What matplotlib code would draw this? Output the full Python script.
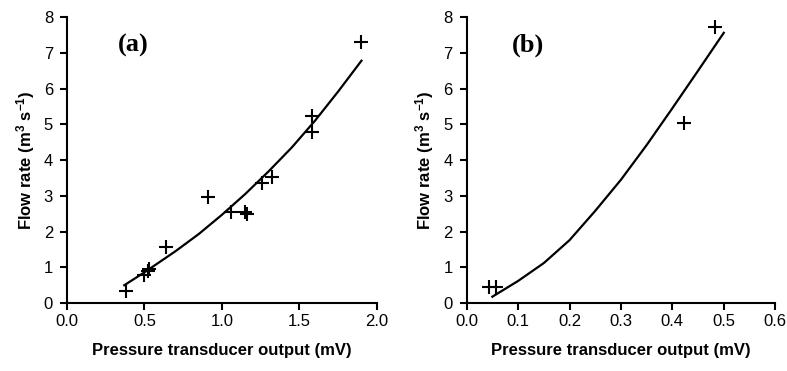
import matplotlib
matplotlib.use("Agg")
import matplotlib.pyplot as plt
from matplotlib.ticker import FormatStrFormatter, MultipleLocator

# Kalibrierung Druckaufnehmer -> Durchfluss, zwei Messreihen

plt.rcParams['font.family'] = ['Liberation Sans', 'DejaVu Sans']
plt.rcParams['mathtext.fontset'] = 'custom'
plt.rcParams['mathtext.rm'] = 'Liberation Sans:bold'
plt.rcParams['mathtext.default'] = 'rm'

# (a) Messpunkte
a_x = [0.38, 0.50, 0.52, 0.53, 0.64, 0.91, 1.06, 1.15, 1.16, 1.26, 1.32, 1.58, 1.58, 1.90]
a_y = [0.35, 0.80, 0.90, 0.95, 1.58, 2.97, 2.55, 2.55, 2.48, 3.35, 3.52, 5.22, 4.78, 7.29]
# (a) Ausgleichskurve
a_fit_x = [0.37, 0.50, 0.70, 0.85, 1.00, 1.15, 1.30, 1.45, 1.60, 1.75, 1.90]
a_fit_y = [0.50, 0.86, 1.45, 1.93, 2.47, 3.05, 3.68, 4.35, 5.10, 5.92, 6.78]

# (b) Messpunkte
b_x = [0.044, 0.057, 0.422, 0.483]
b_y = [0.46, 0.46, 5.04, 7.72]
# (b) Ausgleichskurve
b_fit_x = [0.05, 0.10, 0.15, 0.20, 0.25, 0.30, 0.35, 0.40, 0.45, 0.50]
b_fit_y = [0.18, 0.62, 1.12, 1.76, 2.58, 3.45, 4.42, 5.45, 6.50, 7.56]

xlabel = "Pressure transducer output (mV)"
ylabel = "Flow rate (m$^{3}$ s$^{-1}$)"

fig = plt.figure(figsize=(7.87, 3.71), dpi=100)
ax1 = fig.add_axes([0.085, 0.183, 0.394, 0.771])
ax2 = fig.add_axes([0.593, 0.183, 0.392, 0.771])

panels = [
    (ax1, a_x, a_y, a_fit_x, a_fit_y, 2.0, 0.5, "(a)", 0.213),
    (ax2, b_x, b_y, b_fit_x, b_fit_y, 0.6, 0.1, "(b)", 0.198),
]

for ax, px, py, fx, fy, xmax, xstep, tag, tx in panels:
    ax.plot(fx, fy, color="black", lw=1.6)
    ax.plot(px, py, ls="none", marker="+", ms=10, mew=1.5, color="black")
    ax.set_xlim(0, xmax)
    ax.set_ylim(0, 8)
    ax.xaxis.set_major_locator(MultipleLocator(xstep))
    ax.xaxis.set_major_formatter(FormatStrFormatter("%.1f"))
    ax.yaxis.set_major_locator(MultipleLocator(1))
    for s in ["top", "right"]:
        ax.spines[s].set_visible(False)
    for s in ["left", "bottom"]:
        ax.spines[s].set_linewidth(1.5)
    ax.tick_params(direction="out", length=5, width=1.5, labelsize=12, pad=3)
    ax.tick_params(axis="y", pad=5)
    ax.set_xlabel(xlabel, fontsize=12, fontweight="bold", labelpad=10)
    ax.set_ylabel(ylabel, fontsize=12, fontweight="bold", labelpad=5)
    ax.text(tx, 0.90, tag, transform=ax.transAxes, ha="center", va="center",
            fontsize=19, fontweight="bold", family=["Liberation Serif", "DejaVu Serif"])

fig.savefig("out.png", dpi=100)
